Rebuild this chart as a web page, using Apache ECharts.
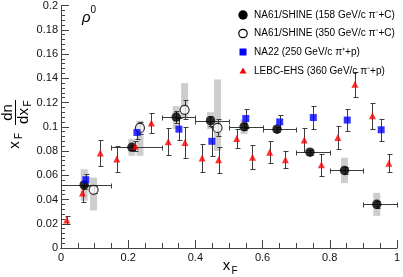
<!DOCTYPE html>
<html><head><meta charset="utf-8">
<script src="https://cdn.jsdelivr.net/npm/echarts@6/dist/echarts.min.js"></script>
<style>html,body{margin:0;padding:0;background:#fff}#c{width:403px;height:277px}</style>
</head><body><div id="c"></div>
<script>
// ---- tick labels ----
const xTickLabels = ['0','0.2','0.4','0.6','0.8','1'];
const yTickLabels = ['0','0.02','0.04','0.06','0.08','0.1','0.12','0.14','0.16','0.18','0.2'];

// ---- legend / titles ----
const seriesNames = [
  'NA61/SHINE (158 GeV/c \u03c0\u207b+C)',
  'NA61/SHINE (350 GeV/c \u03c0\u207b+C)',
  'NA22 (250 GeV/c \u03c0\u207a+p)',
  'LEBC-EHS (360 GeV/c \u03c0\u207b+p)'
];

// ---- NA61/SHINE 158 GeV/c ----
const n158_x    = [0.069, 0.211, 0.343, 0.445, 0.545, 0.643, 0.741, 0.844, 0.940];
const n158_y    = [0.052, 0.083, 0.108, 0.105, 0.100, 0.098, 0.079, 0.064, 0.036];
const n158_xlo  = [0.00, 0.15, 0.30, 0.40, 0.50, 0.60, 0.70, 0.80, 0.90];
const n158_xhi  = [0.15, 0.30, 0.40, 0.50, 0.60, 0.70, 0.80, 0.90, 1.00];
const n158_err  = [0.003, 0.002, 0.005, 0.004, 0.003, 0.002, 0.002, 0.003, 0.003];
const n158_sysLo= [0.039, 0.076, 0.098, 0.098, 0.094, 0.095, 0.076, 0.0535, 0.0265];
const n158_sysHi= [0.065, 0.090, 0.117, 0.112, 0.106, 0.101, 0.082, 0.0745, 0.0455];

// ---- NA61/SHINE 350 GeV/c ----
const n350_x    = [0.097, 0.235, 0.368, 0.466];
const n350_y    = [0.048, 0.099, 0.114, 0.099];
const n350_err  = [0.003, 0.005, 0.008, 0.007];
const n350_sysLo= [0.031, 0.076, 0.107, 0.080];
const n350_sysHi= [0.058, 0.105, 0.136, 0.139];

// ---- NA22 250 GeV/c ----
const na22_x   = [0.074, 0.226, 0.351, 0.449, 0.550, 0.651, 0.751, 0.852, 0.953];
const na22_y   = [0.0563, 0.0953, 0.098, 0.088, 0.1068, 0.104, 0.1076, 0.1055, 0.0975];
const na22_err = [0.005, 0.005, 0.009, 0.012, 0.008, 0.006, 0.0095, 0.0093, 0.0089];

// ---- LEBC-EHS 360 GeV/c ----
const lebc_x   = [0.017, 0.064, 0.117, 0.166, 0.221, 0.269, 0.319, 0.369, 0.420, 0.469,
                  0.523, 0.570, 0.621, 0.668, 0.724, 0.775, 0.824, 0.875, 0.927, 0.976];
const lebc_y   = [0.023, 0.0453, 0.0784, 0.0735, 0.084, 0.103, 0.0877, 0.0871, 0.0743, 0.0727,
                  0.0904, 0.0748, 0.079, 0.0727, 0.089, 0.0686, 0.0912, 0.135, 0.109, 0.070];
const lebc_err = [0.003, 0.007, 0.011, 0.0105, 0.004, 0.0085, 0.011, 0.013, 0.0116, 0.011,
                  0.008, 0.010, 0.009, 0.007, 0.0102, 0.009, 0.0095, 0.0105, 0.011, 0.0072];

// ---- build data ----
function errData(xs, ys, e, xlo, xhi) {
  return xs.map((x, i) => [x, ys[i], ys[i] - e[i], ys[i] + e[i],
                           xlo ? xlo[i] : x, xhi ? xhi[i] : x]);
}
function boxData(xs, lo, hi) { return xs.map((x, i) => [x, lo[i], hi[i]]); }
function pts(xs, ys) { return xs.map((x, i) => [x, ys[i]]); }

const FONT = "'Liberation Sans', Arial, Helvetica, sans-serif";
const ERRC = '#3c3c3c';
const CAP = 2;

function renderErr(params, api) {
  const x = api.value(0), y = api.value(1);
  const ylo = api.value(2), yhi = api.value(3), xlo = api.value(4), xhi = api.value(5);
  const p = api.coord([x, y]);
  const st = { stroke: ERRC, lineWidth: 1, fill: null };
  const ch = [];
  const cx = Math.round(p[0]) + 0.5, cy = Math.round(p[1]) + 0.5;
  if (yhi > ylo) {
    const a = Math.round(api.coord([x, ylo])[1]) + 0.5, b = Math.round(api.coord([x, yhi])[1]) + 0.5;
    ch.push({ type: 'line', shape: { x1: cx, y1: a, x2: cx, y2: b }, style: st });
    ch.push({ type: 'line', shape: { x1: cx - CAP, y1: a, x2: cx + CAP + 1, y2: a }, style: st });
    ch.push({ type: 'line', shape: { x1: cx - CAP, y1: b, x2: cx + CAP + 1, y2: b }, style: st });
  }
  if (xhi > xlo) {
    const a = Math.round(api.coord([xlo, y])[0]) + 0.5, b = Math.round(api.coord([xhi, y])[0]) + 0.5;
    ch.push({ type: 'line', shape: { x1: a, y1: cy, x2: b, y2: cy }, style: st });
    ch.push({ type: 'line', shape: { x1: a, y1: cy - CAP, x2: a, y2: cy + CAP + 1 }, style: st });
    ch.push({ type: 'line', shape: { x1: b, y1: cy - CAP, x2: b, y2: cy + CAP + 1 }, style: st });
  }
  return { type: 'group', children: ch };
}
function renderBox(params, api) {
  const x = api.value(0);
  const a = api.coord([x, api.value(1)]), b = api.coord([x, api.value(2)]);
  return { type: 'rect', shape: { x: a[0] - 3.5, y: b[1], width: 7, height: a[1] - b[1] },
           style: { fill: '#cdcdcd' } };
}

const axisCommon = {
  axisLine: { show: true, lineStyle: { color: '#444', width: 1 } },
  splitLine: { show: false }
};

const option = {
  animation: false,
  backgroundColor: '#fff',
  grid: { left: 61, right: 3, top: 4, bottom: 29 },
  xAxis: [{
    type: 'value', min: 0, max: 1, interval: 0.2, ...axisCommon,
    axisTick: { show: true, inside: true, length: 8, lineStyle: { color: '#444' } },
    minorTick: { show: true, splitNumber: 4, length: 5, lineStyle: { color: '#444' } },
    axisLabel: { fontFamily: FONT, fontSize: 11, color: '#111', margin: 4,
                 formatter: v => xTickLabels[Math.round(v / 0.2)] }
  }, {
    type: 'value', min: 0, max: 1, position: 'top', ...axisCommon,
    axisTick: { show: false }, axisLabel: { show: false }
  }],
  yAxis: [{
    type: 'value', min: 0, max: 0.2, interval: 0.02, ...axisCommon,
    axisTick: { show: true, inside: true, length: 8, lineStyle: { color: '#444' } },
    minorTick: { show: true, splitNumber: 5, length: 4, lineStyle: { color: '#444' } },
    axisLabel: { fontFamily: FONT, fontSize: 11, color: '#111', margin: 3,
                 formatter: v => yTickLabels[Math.round(v / 0.02)] }
  }, {
    type: 'value', min: 0, max: 0.2, position: 'right', ...axisCommon,
    axisTick: { show: false }, axisLabel: { show: false }
  }],
  series: [
    { type: 'custom', renderItem: renderBox, data: boxData(n158_x, n158_sysLo, n158_sysHi), z: 1 },
    { type: 'custom', renderItem: renderBox, data: boxData(n350_x, n350_sysLo, n350_sysHi), z: 1 },
    { type: 'custom', renderItem: renderErr, data: errData(n158_x, n158_y, n158_err, n158_xlo, n158_xhi), z: 2 },
    { type: 'custom', renderItem: renderErr, data: errData(n350_x, n350_y, n350_err), z: 2 },
    { type: 'custom', renderItem: renderErr, data: errData(na22_x, na22_y, na22_err), z: 2 },
    { type: 'custom', renderItem: renderErr, data: errData(lebc_x, lebc_y, lebc_err), z: 2 },
    { name: seriesNames[0], type: 'scatter', data: pts(n158_x, n158_y), symbol: 'circle', symbolSize: 9.5,
      itemStyle: { color: '#000' }, z: 3 },
    { name: seriesNames[1], type: 'scatter', data: pts(n350_x, n350_y), symbol: 'circle', symbolSize: 9,
      itemStyle: { color: '#fff', borderColor: '#000', borderWidth: 1.2 }, z: 3 },
    { name: seriesNames[2], type: 'scatter', data: pts(na22_x, na22_y), symbol: 'rect', symbolSize: 7,
      itemStyle: { color: '#0000ff' }, z: 3 },
    { name: seriesNames[3], type: 'scatter', data: pts(lebc_x, lebc_y), symbol: 'triangle', symbolSize: 7,
      itemStyle: { color: '#ff0000' }, z: 3 }
  ],
  graphic: [
    // legend
    { type: 'circle', shape: { cx: 243, cy: 15, r: 4.7 }, style: { fill: '#000' }, z: 10 },
    { type: 'circle', shape: { cx: 243, cy: 33.5, r: 4.2 }, style: { fill: '#fff', stroke: '#000', lineWidth: 1.2 }, z: 10 },
    { type: 'rect', shape: { x: 239.5, y: 48.5, width: 7, height: 7 }, style: { fill: '#0000ff' }, z: 10 },
    { type: 'polygon', shape: { points: [[243, 67.5], [246.5, 73.5], [239.5, 73.5]] }, style: { fill: '#ff0000' }, z: 10 },
    { type: 'text', x: 254, y: 15, style: { text: seriesNames[0], font: '10px ' + FONT, fill: '#000', verticalAlign: 'middle' }, z: 10 },
    { type: 'text', x: 254, y: 33.5, style: { text: seriesNames[1], font: '10px ' + FONT, fill: '#000', verticalAlign: 'middle' }, z: 10 },
    { type: 'text', x: 254, y: 52, style: { text: seriesNames[2], font: '10px ' + FONT, fill: '#000', verticalAlign: 'middle' }, z: 10 },
    { type: 'text', x: 254, y: 71, style: { text: seriesNames[3], font: '10px ' + FONT, fill: '#000', verticalAlign: 'middle' }, z: 10 },
    // rho0 label
    { type: 'text', x: 82, y: 18, style: { text: '\u03c1', font: 'italic 15px ' + FONT, fill: '#000', verticalAlign: 'middle' }, z: 10 },
    { type: 'text', x: 90.5, y: 10.5, style: { text: '0', font: '10px ' + FONT, fill: '#000', verticalAlign: 'middle' }, z: 10 },
    // x-axis title
    { type: 'text', x: 226.5, y: 265.5, style: { text: 'x', font: '15px ' + FONT, fill: '#000', align: 'center', verticalAlign: 'middle' }, z: 10 },
    { type: 'text', x: 234.5, y: 271, style: { text: 'F', font: '10px ' + FONT, fill: '#000', align: 'center', verticalAlign: 'middle' }, z: 10 },
    // y-axis title (rotated group)
    { type: 'group', x: 16, y: 150, rotation: Math.PI / 2, z: 10, children: [
      { type: 'text', x: 5, y: -1, style: { text: 'x', font: '15px ' + FONT, fill: '#000', align: 'center', verticalAlign: 'middle' } },
      { type: 'text', x: 14, y: 3.5, style: { text: 'F', font: '10px ' + FONT, fill: '#000', align: 'center', verticalAlign: 'middle' } },
      { type: 'text', x: 37.5, y: -8, style: { text: 'dn', font: '15px ' + FONT, fill: '#000', align: 'center', verticalAlign: 'middle' } },
      { type: 'line', shape: { x1: 25, y1: -0.5, x2: 50, y2: -0.5 }, style: { stroke: '#000', lineWidth: 1 } },
      { type: 'text', x: 34, y: 8, style: { text: 'dx', font: '15px ' + FONT, fill: '#000', align: 'center', verticalAlign: 'middle' } },
      { type: 'text', x: 46.5, y: 12.5, style: { text: 'F', font: '10px ' + FONT, fill: '#000', align: 'center', verticalAlign: 'middle' } }
    ]}
  ]
};

const chart = echarts.init(document.getElementById('c'), null, { renderer: 'canvas' });
chart.setOption(option);
</script>
</body></html>
